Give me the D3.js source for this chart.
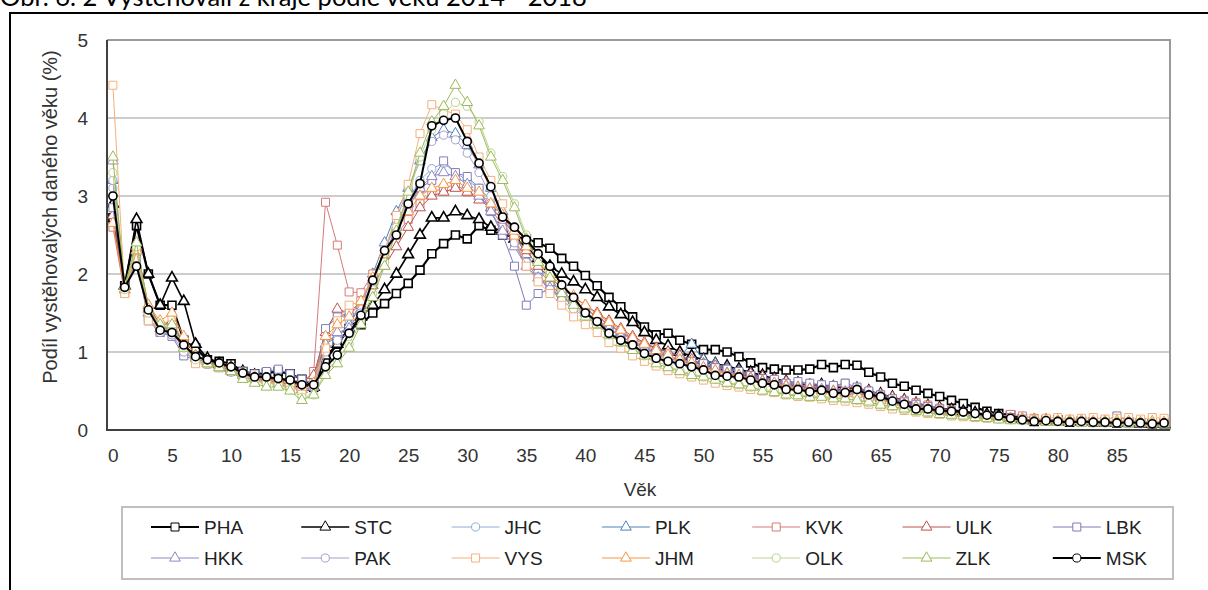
<!DOCTYPE html>
<html>
<head>
<meta charset="utf-8">
<script src="https://cdn.jsdelivr.net/npm/d3@7"></script>
<style>
  body { margin: 0; background: #fff; }
  svg { display: block; }
</style>
</head>
<body>
<svg id="chart" width="1208" height="590"></svg>
<script>
// ages 0..89 (categories of the x axis)
const ages = [0,1,2,3,4,5,6,7,8,9,10,11,12,13,14,15,16,17,18,19,20,21,22,23,24,25,26,27,28,29,
  30,31,32,33,34,35,36,37,38,39,40,41,42,43,44,45,46,47,48,49,50,51,52,53,54,55,56,57,58,59,
  60,61,62,63,64,65,66,67,68,69,70,71,72,73,74,75,76,77,78,79,80,81,82,83,84,85,86,87,88,89];
const ageTicks = [0,5,10,15,20,25,30,35,40,45,50,55,60,65,70,75,80,85];
const yTicks = [0,1,2,3,4,5];

const regions = ['PHA','STC','JHC','PLK','KVK','ULK','LBK','HKK','PAK','VYS','JHM','OLK','ZLK','MSK'];

const pha = [2.72,1.85,2.62,2.0,1.6,1.6,1.15,1.05,0.9,0.88,
  0.85,0.75,0.72,0.73,0.75,0.72,0.65,0.55,0.9,1.1,
  1.3,1.35,1.5,1.62,1.75,1.88,2.05,2.26,2.39,2.5,
  2.45,2.62,2.56,2.5,2.48,2.45,2.4,2.33,2.2,2.1,
  1.98,1.85,1.7,1.58,1.45,1.32,1.22,1.24,1.15,1.1,
  1.03,1.03,1.0,0.94,0.86,0.8,0.78,0.77,0.77,0.78,
  0.84,0.8,0.84,0.83,0.74,0.68,0.6,0.56,0.51,0.47,
  0.43,0.38,0.34,0.29,0.24,0.21,0.19,0.14,0.11,0.12,
  0.13,0.1,0.11,0.1,0.1,0.09,0.1,0.09,0.08,0.08];
const stc = [2.9,1.85,2.7,2.0,1.6,1.95,1.65,1.1,0.92,0.85,
  0.8,0.75,0.7,0.68,0.65,0.63,0.6,0.55,0.95,1.1,
  1.3,1.45,1.6,1.8,2.0,2.25,2.5,2.72,2.72,2.8,
  2.75,2.7,2.6,2.55,2.45,2.35,2.2,2.1,2.0,1.9,
  1.8,1.7,1.58,1.48,1.38,1.25,1.15,1.08,1.0,0.95,
  0.9,0.85,0.82,0.78,0.74,0.7,0.66,0.62,0.6,0.57,
  0.58,0.55,0.55,0.53,0.5,0.46,0.42,0.38,0.34,0.31,
  0.28,0.26,0.24,0.22,0.2,0.18,0.16,0.14,0.12,0.12,
  0.11,0.1,0.1,0.1,0.09,0.09,0.09,0.08,0.08,0.08];
const jhc = [3.1,1.8,2.25,1.5,1.3,1.3,1.05,0.92,0.86,0.82,
  0.76,0.7,0.65,0.62,0.6,0.6,0.55,0.6,1.3,1.5,
  1.4,1.6,1.95,2.3,2.65,2.95,3.2,3.35,3.42,3.3,
  3.2,3.1,2.95,2.75,2.5,2.25,2.05,1.9,1.78,1.65,
  1.55,1.45,1.35,1.25,1.15,1.08,1.0,0.95,0.9,0.87,
  0.82,0.78,0.74,0.7,0.68,0.65,0.62,0.6,0.58,0.55,
  0.54,0.52,0.5,0.49,0.45,0.42,0.38,0.34,0.31,0.28,
  0.26,0.24,0.22,0.2,0.18,0.16,0.15,0.14,0.13,0.12,
  0.12,0.11,0.11,0.1,0.1,0.1,0.09,0.09,0.09,0.08];
const plk = [3.2,1.85,2.3,1.55,1.35,1.35,1.1,0.95,0.88,0.83,
  0.78,0.72,0.68,0.65,0.63,0.6,0.55,0.65,1.1,1.2,
  1.35,1.6,2.0,2.4,2.8,3.1,3.45,3.75,3.85,3.8,
  3.65,3.4,3.1,2.8,2.5,2.25,2.05,1.9,1.78,1.66,
  1.55,1.45,1.35,1.25,1.18,1.1,1.05,1.0,0.95,1.1,
  0.9,0.85,0.8,0.76,0.72,0.68,0.64,0.6,0.58,0.55,
  0.55,0.53,0.52,0.5,0.46,0.42,0.38,0.35,0.31,0.28,
  0.26,0.23,0.21,0.19,0.17,0.16,0.14,0.13,0.12,0.12,
  0.11,0.1,0.1,0.1,0.09,0.09,0.08,0.09,0.08,0.08];
const kvk = [2.6,1.75,2.2,1.45,1.25,1.3,1.0,0.9,0.85,0.8,
  0.75,0.7,0.65,0.62,0.6,0.55,0.6,0.75,2.92,2.37,
  1.77,1.76,2.0,2.25,2.5,2.7,2.9,3.05,3.1,3.15,
  3.05,3.0,2.85,2.6,2.4,2.1,1.95,1.85,1.75,1.65,
  1.55,1.45,1.35,1.25,1.15,1.05,1.0,0.95,0.9,0.85,
  0.8,0.78,0.75,0.72,0.7,0.66,0.62,0.6,0.58,0.56,
  0.56,0.55,0.6,0.52,0.48,0.45,0.4,0.38,0.35,0.32,
  0.28,0.25,0.22,0.2,0.18,0.17,0.2,0.18,0.15,0.14,
  0.12,0.12,0.13,0.11,0.1,0.11,0.1,0.1,0.09,0.1];
const ulk = [2.75,1.8,2.35,1.6,1.35,1.4,1.1,0.95,0.88,0.84,
  0.8,0.74,0.7,0.68,0.66,0.64,0.62,0.7,1.25,1.55,
  1.5,1.6,1.85,2.1,2.35,2.6,2.85,3.0,3.05,3.1,
  3.05,2.95,2.85,2.7,2.5,2.3,2.1,1.95,1.82,1.7,
  1.6,1.5,1.4,1.3,1.2,1.12,1.05,1.0,0.95,0.9,
  0.85,0.82,0.78,0.75,0.72,0.68,0.65,0.62,0.6,0.58,
  0.57,0.56,0.55,0.54,0.5,0.46,0.42,0.38,0.34,0.31,
  0.28,0.25,0.22,0.2,0.18,0.16,0.15,0.14,0.12,0.12,
  0.11,0.1,0.1,0.1,0.09,0.09,0.09,0.08,0.08,0.08];
const lbk = [2.85,1.8,2.2,1.4,1.25,1.2,0.95,0.9,0.85,0.8,
  0.78,0.75,0.72,0.75,0.78,0.72,0.65,0.6,1.3,1.45,
  1.5,1.65,1.95,2.25,2.55,2.85,3.1,3.2,3.45,3.3,
  3.25,3.1,2.8,2.5,2.1,1.6,1.75,1.8,1.7,1.6,
  1.5,1.4,1.3,1.2,1.12,1.05,1.0,0.95,0.9,0.88,
  0.85,0.8,0.78,0.75,0.7,0.66,0.65,0.6,0.62,0.6,
  0.58,0.57,0.6,0.55,0.5,0.45,0.4,0.36,0.33,0.3,
  0.27,0.24,0.22,0.2,0.18,0.17,0.16,0.14,0.13,0.14,
  0.12,0.12,0.13,0.11,0.12,0.18,0.12,0.11,0.1,0.1];
const hkk = [3.45,1.8,2.3,1.5,1.3,1.28,1.05,0.92,0.86,0.8,
  0.76,0.7,0.66,0.64,0.6,0.58,0.52,0.55,1.1,1.25,
  1.3,1.55,1.9,2.25,2.6,2.9,3.1,3.25,3.3,3.25,
  3.15,3.0,2.8,2.55,2.35,2.1,1.95,1.82,1.7,1.6,
  1.5,1.4,1.3,1.2,1.12,1.05,0.98,0.92,0.88,0.84,
  0.8,0.76,0.73,0.7,0.67,0.63,0.6,0.57,0.55,0.53,
  0.52,0.5,0.49,0.47,0.44,0.4,0.36,0.33,0.3,0.27,
  0.25,0.23,0.21,0.19,0.17,0.15,0.14,0.13,0.12,0.11,
  0.11,0.1,0.1,0.1,0.09,0.09,0.09,0.08,0.08,0.08];
const pak = [3.2,1.8,2.2,1.45,1.25,1.22,1.0,0.9,0.84,0.8,
  0.74,0.68,0.64,0.62,0.58,0.56,0.5,0.55,1.0,1.15,
  1.25,1.5,1.9,2.3,2.7,3.1,3.45,3.7,3.78,3.72,
  3.55,3.3,3.0,2.7,2.4,2.15,1.95,1.8,1.66,1.55,
  1.45,1.35,1.25,1.15,1.08,1.0,0.95,0.9,0.85,0.8,
  0.77,0.73,0.7,0.67,0.64,0.6,0.57,0.55,0.53,0.5,
  0.5,0.48,0.47,0.45,0.42,0.38,0.35,0.32,0.29,0.26,
  0.24,0.22,0.2,0.18,0.17,0.15,0.14,0.13,0.12,0.11,
  0.11,0.1,0.1,0.09,0.09,0.09,0.08,0.08,0.08,0.08];
const vys = [4.42,1.75,2.3,1.4,1.3,1.45,1.1,0.85,0.85,0.8,
  0.8,0.7,0.65,0.6,0.62,0.55,0.5,0.6,1.05,1.4,
  1.6,1.65,1.95,2.3,2.75,3.15,3.8,4.17,4.1,4.05,
  3.85,3.5,3.2,2.9,2.5,2.1,1.9,1.75,1.6,1.45,
  1.35,1.25,1.12,1.05,0.95,0.88,0.82,0.76,0.72,0.68,
  0.64,0.6,0.57,0.55,0.52,0.5,0.48,0.45,0.43,0.42,
  0.4,0.38,0.37,0.35,0.33,0.3,0.27,0.25,0.23,0.21,
  0.2,0.18,0.17,0.16,0.15,0.16,0.14,0.13,0.14,0.15,
  0.16,0.14,0.15,0.16,0.14,0.15,0.16,0.14,0.16,0.15];
const jhm = [2.65,1.8,2.3,1.6,1.4,1.5,1.2,0.95,0.85,0.82,
  0.78,0.72,0.68,0.65,0.62,0.6,0.55,0.6,1.2,1.35,
  1.45,1.65,1.95,2.25,2.55,2.8,3.0,3.1,3.15,3.2,
  3.1,3.05,2.9,2.75,2.55,2.35,2.15,2.0,1.85,1.72,
  1.6,1.48,1.38,1.28,1.18,1.1,1.02,0.96,0.9,0.86,
  0.8,0.76,0.72,0.7,0.66,0.62,0.6,0.56,0.54,0.52,
  0.5,0.49,0.47,0.46,0.42,0.38,0.35,0.32,0.29,0.27,
  0.25,0.23,0.21,0.19,0.17,0.16,0.15,0.14,0.13,0.13,
  0.12,0.12,0.12,0.11,0.11,0.12,0.11,0.1,0.11,0.1];
const olk = [3.3,1.8,2.35,1.5,1.35,1.3,1.05,0.9,0.85,0.8,
  0.75,0.68,0.62,0.6,0.58,0.52,0.42,0.45,0.75,0.9,
  1.1,1.4,1.75,2.15,2.6,3.0,3.5,3.85,4.05,4.2,
  4.15,3.95,3.55,3.25,2.9,2.5,2.2,2.0,1.8,1.62,
  1.48,1.35,1.22,1.12,1.05,0.95,0.88,0.82,0.76,0.72,
  0.68,0.65,0.6,0.58,0.55,0.52,0.5,0.46,0.45,0.44,
  0.43,0.42,0.4,0.38,0.35,0.32,0.3,0.26,0.24,0.22,
  0.21,0.19,0.18,0.17,0.15,0.14,0.13,0.12,0.12,0.11,
  0.11,0.1,0.11,0.1,0.1,0.1,0.09,0.1,0.09,0.08];
const zlk = [3.5,1.85,2.4,1.55,1.35,1.35,1.05,0.95,0.85,0.8,
  0.75,0.65,0.6,0.55,0.55,0.5,0.38,0.45,0.7,0.85,
  1.05,1.35,1.7,2.1,2.55,3.05,3.55,3.95,4.15,4.42,
  4.2,3.9,3.5,3.2,2.85,2.45,2.15,1.95,1.75,1.6,
  1.45,1.35,1.22,1.12,1.02,0.95,0.85,0.8,0.75,0.7,
  0.68,0.64,0.6,0.58,0.55,0.5,0.48,0.45,0.44,0.42,
  0.42,0.4,0.4,0.38,0.36,0.32,0.3,0.27,0.24,0.22,
  0.2,0.19,0.18,0.16,0.15,0.13,0.12,0.12,0.11,0.1,
  0.1,0.1,0.09,0.09,0.1,0.09,0.08,0.09,0.08,0.08];
const msk = [3.0,1.83,2.1,1.54,1.28,1.25,1.09,0.94,0.9,0.86,
  0.81,0.73,0.68,0.68,0.66,0.64,0.58,0.58,0.81,0.96,
  1.24,1.47,1.92,2.3,2.5,2.9,3.16,3.9,3.97,4.0,
  3.7,3.42,3.12,2.73,2.6,2.44,2.26,2.1,1.86,1.7,
  1.5,1.39,1.24,1.15,1.09,0.98,0.92,0.88,0.85,0.81,
  0.77,0.7,0.69,0.68,0.64,0.6,0.58,0.52,0.52,0.49,
  0.51,0.47,0.48,0.52,0.45,0.43,0.37,0.33,0.27,0.27,
  0.25,0.24,0.23,0.21,0.19,0.18,0.15,0.13,0.11,0.12,
  0.11,0.1,0.11,0.1,0.1,0.09,0.1,0.09,0.08,0.09];

const values = [pha, stc, jhc, plk, kvk, ulk, lbk, hkk, pak, vys, jhm, olk, zlk, msk];

// look of each region
const colors = ['#000000','#000000','#8eacd6','#4f81bd','#d47b79','#c0504d','#7d7db8',
  '#8f88c4','#aa9ccc','#f5b07a','#f79646','#bcd38e','#9bbb59','#000000'];
const shapes = ['square','triangle','circle','triangle','square','triangle','square',
  'triangle','circle','square','triangle','circle','triangle','circle'];
const widths = [2.2,1.6,1,1,1,1,1,1,1,1,1,1,1,2];

const symbolFor = {
  square: d3.symbol().type(d3.symbolSquare).size(64),
  triangle: d3.symbol().type(d3.symbolTriangle).size(50),
  circle: d3.symbol().type(d3.symbolCircle).size(52)
};

const series = regions.map((name, i) => ({
  name, data: values[i], color: colors[i], shape: shapes[i], width: widths[i]
}));

const svg = d3.select('#chart');
const font = 'Liberation Sans, Arial, sans-serif';

// caption, cut at the top of the picture like in the source
svg.append('text')
  .attr('x', 0).attr('y', 6)
  .style('font-family', 'Lato, Carlito, sans-serif')
  .style('font-size', '25.5px')
  .style('fill', '#000')
  .text('Obr. 6. 2 Vystěhovalí z kraje podle věku 2014 - 2018');

// outer frame
svg.append('rect')
  .attr('x', 10).attr('y', 13).attr('width', 1400).attr('height', 800)
  .attr('fill', 'none').attr('stroke', '#000').attr('stroke-width', 2);

const x = d3.scalePoint().domain(ages).range([107, 1170]).padding(0.5);
const y = d3.scaleLinear().domain([0, 5]).range([430, 40]);

// grid
svg.append('g')
  .selectAll('line')
  .data(yTicks.filter(t => t > 0 && t < 5))
  .enter().append('line')
  .attr('x1', 107).attr('x2', 1170)
  .attr('y1', d => y(d)).attr('y2', d => y(d))
  .attr('stroke', '#bdbdbd').attr('stroke-width', 1.5);

// plot border top / right
svg.append('path')
  .attr('d', `M107,${y(5)}H1170V${y(0)}`)
  .attr('fill', 'none').attr('stroke', '#9a9a9a').attr('stroke-width', 2);

const yAxis = svg.append('g')
  .attr('transform', 'translate(107,0)')
  .call(d3.axisLeft(y).tickValues(yTicks).tickFormat(d3.format('d')).tickSize(0).tickPadding(19));
yAxis.select('.domain').remove();
yAxis.selectAll('text').style('font-family', font).style('font-size', '19px').style('fill', '#333');

const xAxis = svg.append('g')
  .attr('transform', 'translate(0,430)')
  .call(d3.axisBottom(x).tickValues(ageTicks).tickSize(0).tickPadding(19));
xAxis.select('.domain').remove();
xAxis.selectAll('text').style('font-family', font).style('font-size', '19px').style('fill', '#333');

// series
const line = d3.line().x((d, i) => x(ages[i])).y(d => y(d));

series.forEach(s => {
  const g = svg.append('g');
  g.append('path')
    .datum(s.data)
    .attr('d', line)
    .attr('fill', 'none')
    .attr('stroke', s.color)
    .attr('stroke-width', s.width);
  g.selectAll('path.m')
    .data(s.data)
    .enter().append('path')
    .attr('class', 'm')
    .attr('d', symbolFor[s.shape])
    .attr('transform', (d, i) => `translate(${x(ages[i])},${y(d)})`)
    .attr('fill', '#fff')
    .attr('stroke', s.color)
    .attr('stroke-width', s.width > 1.5 ? 1.6 : 1);
});

// axis lines left / bottom
svg.append('path')
  .attr('d', `M107,${y(5)}V${y(0)}H1170`)
  .attr('fill', 'none').attr('stroke', '#404040').attr('stroke-width', 2);

// axis titles
svg.append('text')
  .attr('transform', 'translate(57,217) rotate(-90)')
  .attr('text-anchor', 'middle')
  .style('font-family', font).style('font-size', '20px').style('fill', '#333')
  .text('Podíl vystěhovalých daného věku (%)');

svg.append('text')
  .attr('x', 640).attr('y', 496)
  .attr('text-anchor', 'middle')
  .style('font-family', font).style('font-size', '19px').style('fill', '#333')
  .text('Věk');

// legend
svg.append('rect')
  .attr('x', 122).attr('y', 507).attr('width', 1051).attr('height', 72)
  .attr('fill', '#fff').attr('stroke', '#bfbfbf').attr('stroke-width', 2);

const legend = svg.append('g')
  .selectAll('g')
  .data(series)
  .enter().append('g')
  .attr('transform', (d, i) => `translate(${151 + (i % 7) * 150.3},${i < 7 ? 527 : 558})`);

legend.append('line')
  .attr('x1', 0).attr('x2', 48)
  .attr('stroke', d => d.color).attr('stroke-width', d => d.width);
legend.append('path')
  .attr('d', d => symbolFor[d.shape]())
  .attr('transform', 'translate(24,0)')
  .attr('fill', '#fff').attr('stroke', d => d.color).attr('stroke-width', 1);
legend.append('text')
  .attr('x', 53).attr('dy', '0.35em')
  .style('font-family', font).style('font-size', '19px').style('fill', '#222')
  .text(d => d.name);
</script>
</body>
</html>
